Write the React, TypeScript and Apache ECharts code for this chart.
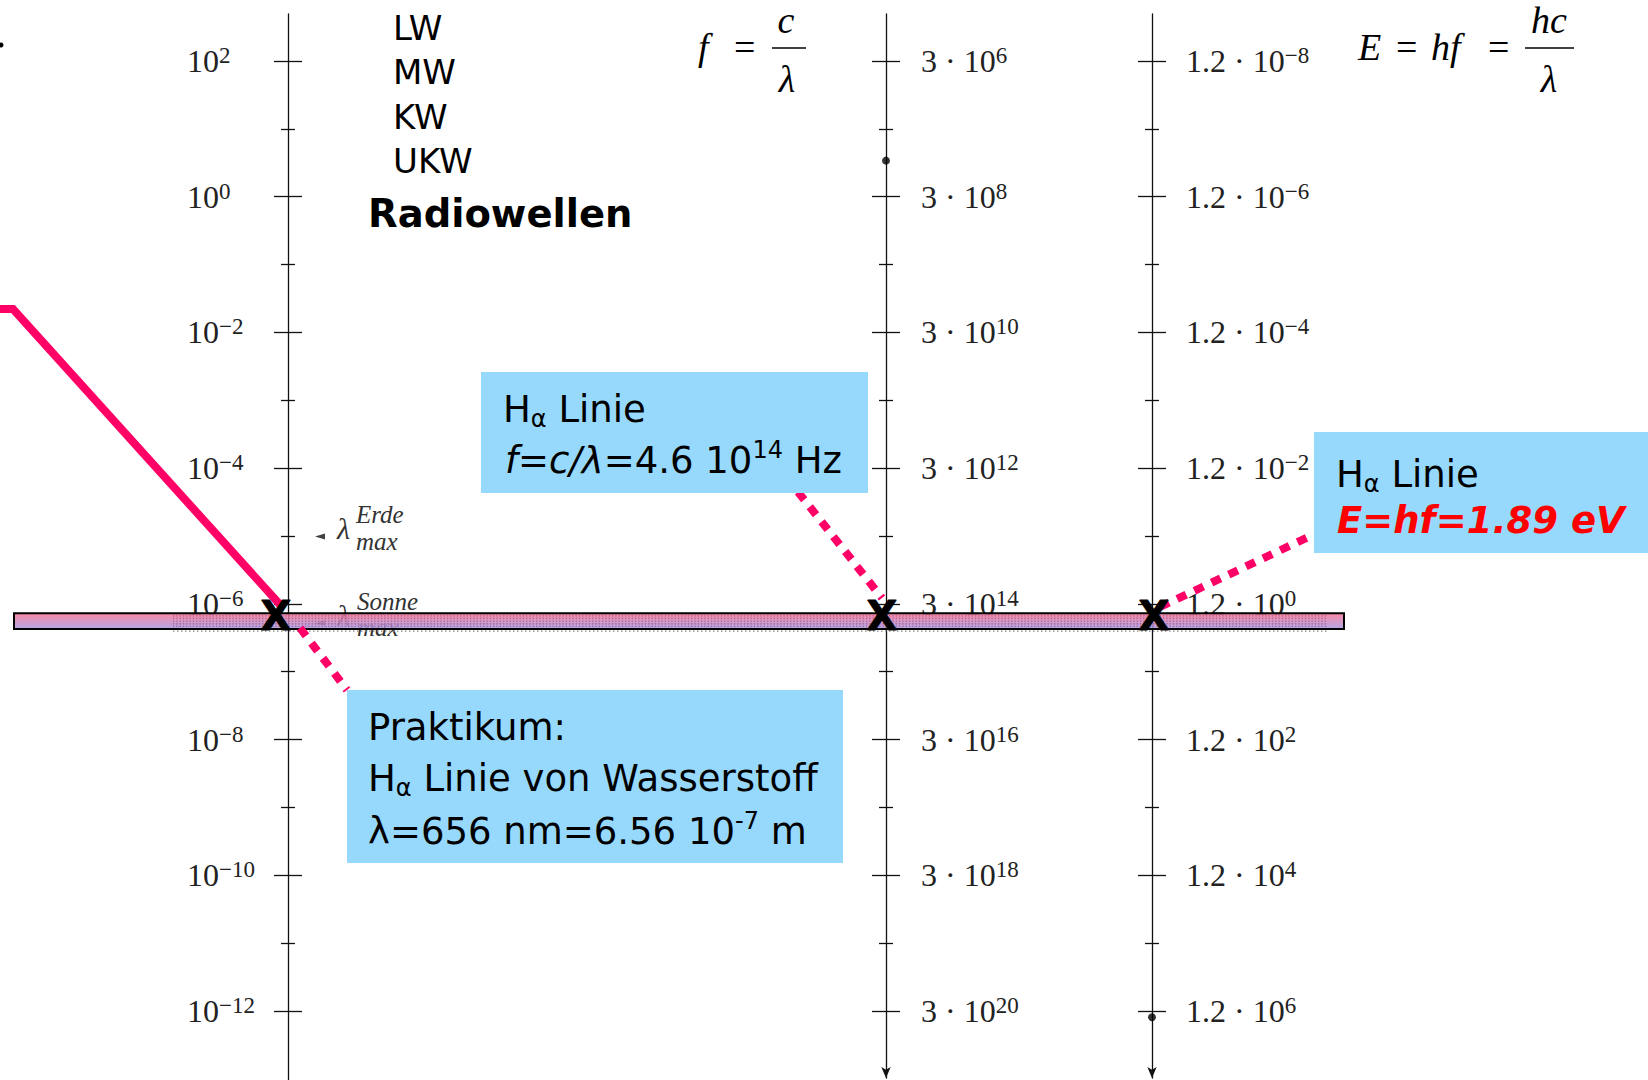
import React, { useEffect, useRef } from 'react';
import * as echarts from 'echarts';

// ---------------- data ----------------
// major ticks of the three scales (λ in m, f = 3·10^k Hz, E = 1.2·10^k eV)
const lambdaTickExp = [2, 0, -2, -4, -6, -8, -10, -12];
const freqTickExp = [6, 8, 10, 12, 14, 16, 18, 20];
const energyTickExp = [-8, -6, -4, -2, 0, 2, 4, 6];
const freqMantissa = '3';
const energyMantissa = '1.2';

const radioBands = ['LW', 'MW', 'KW', 'UKW'];
const radioTitle = 'Radiowellen';

const hAlphaLambda = 6.56e-7; // m
const visibleBand = [4.25e-7, 7.3e-7]; // m
const lambdaMaxErde = 9.8e-6; // m
const lambdaMaxSonne = 5.2e-7; // m
const ukwDotLambda = 3.4; // m  (~88 MHz)
const gammaDotLambda = 8.1e-13; // m (~1.5 MeV)

// annotation lines: [diagram x, λ in m]
const pinkLine = [[0, 0.0221], [13, 0.0221], [283, 8.7e-7]];
const leaderPraktikum = [[300, 4.42e-7], [347, 5.38e-8]];
const leaderFreq = [[798, 4.46e-5], [882, 1.22e-6]];
const leaderEnergy = [[1160, 9.0e-7], [1313, 1.04e-5]];

// ---------------- layout ----------------
const W = 1648;
const H = 1080;
const COLS = [288, 886, 1152];
const TOP = 61;
const SPAN = 950;
const EXP_MIN = -12;
const EXP_MAX = 2;
const PINK = '#ff0066';
const BLUE = '#97d9fc';
const SANS = 'DejaVu Sans';
const SERIF = 'Liberation Serif';

const L = (m: number) => Math.log10(m);
const expStr = (e: number) => (e < 0 ? '\u2212' + Math.abs(e) : String(e));

const labelRich = {
  b: { fontFamily: SERIF, fontSize: 32, lineHeight: 34, color: '#222' },
  s: { fontFamily: SERIF, fontSize: 23, lineHeight: 14, verticalAlign: 'top', color: '#222' },
};

function makeFormatter(kind: number) {
  return (v: number) => {
    const i = lambdaTickExp.indexOf(Math.round(v));
    if (i < 0) return '';
    if (kind === 0) return `{b|10}{s|${expStr(lambdaTickExp[i])}}`;
    if (kind === 1) return `{b|${freqMantissa} · 10}{s|${expStr(freqTickExp[i])}}`;
    return `{b|${energyMantissa} · 10}{s|${expStr(energyTickExp[i])}}`;
  };
}

const boxRich: any = {
  a: { fontFamily: SANS, fontSize: 37, lineHeight: 44, fill: '#000' },
  ai: { fontFamily: SANS, fontSize: 37, lineHeight: 44, fontStyle: 'italic', fill: '#000' },
  s: { fontFamily: SANS, fontSize: 24, lineHeight: 16, verticalAlign: 'bottom', fill: '#000' },
  p: { fontFamily: SANS, fontSize: 24, lineHeight: 26, verticalAlign: 'top', fill: '#000' },
  r: { fontFamily: SANS, fontSize: 37, lineHeight: 44, fontStyle: 'italic', fontWeight: 'bold', fill: '#ff0000' },
};

function txt(x: number, y: number, text: string, style: any = {}, z = 30) {
  return {
    type: 'text',
    x,
    y,
    z,
    silent: true,
    style: {
      text,
      fill: '#000',
      align: 'left',
      verticalAlign: 'middle',
      textAlign: 'left',
      textVerticalAlign: 'middle',
      ...style,
    },
  };
}

function richTxt(x: number, y: number, text: string) {
  return txt(x, y, text, { rich: boxRich, fontFamily: SANS, fontSize: 37 });
}

export default function App() {
  const ref = useRef<HTMLDivElement>(null);

  useEffect(() => {
    document.body.style.margin = '0';
    const chart = echarts.init(ref.current!, null, { renderer: 'svg', width: W, height: H });

    const grids: any[] = [{ left: 0, top: TOP, width: W, height: SPAN }];
    COLS.forEach((x) => grids.push({ left: x - 14, top: TOP, width: 28, height: SPAN }));
    COLS.forEach((x) => grids.push({ left: x - 7, top: TOP, width: 14, height: SPAN }));
    COLS.forEach((x, i) => grids.push({ left: x, top: 14, width: 10, height: i === 0 ? 1066 : 1064 }));

    const xAxes = grids.map((_, i) => ({
      gridIndex: i,
      type: 'value',
      show: false,
      min: 0,
      max: i === 0 ? W : 1,
    }));

    const yAxes: any[] = [{ gridIndex: 0, type: 'value', min: EXP_MIN, max: EXP_MAX, show: false }];
    const margins = [101, 35, 34];
    COLS.forEach((_, i) =>
      yAxes.push({
        gridIndex: 1 + i,
        type: 'value',
        min: EXP_MIN,
        max: EXP_MAX,
        interval: 2,
        position: i === 0 ? 'left' : 'right',
        offset: -14,
        axisLine: { show: false },
        axisTick: { show: false },
        splitLine: { show: true, lineStyle: { color: '#111', width: 1.3 } },
        axisLabel: {
          show: true,
          margin: margins[i],
          align: 'left',
          formatter: makeFormatter(i),
          rich: labelRich,
        },
      })
    );
    COLS.forEach((_, i) =>
      yAxes.push({
        gridIndex: 4 + i,
        type: 'value',
        min: EXP_MIN,
        max: EXP_MAX,
        interval: 2,
        axisLine: { show: false },
        axisTick: { show: false },
        axisLabel: { show: false },
        splitLine: { show: false },
        minorTick: { show: false, splitNumber: 2 },
        minorSplitLine: { show: true, lineStyle: { color: '#111', width: 1.3 } },
      })
    );
    COLS.forEach((_, i) =>
      yAxes.push({
        gridIndex: 7 + i,
        type: 'value',
        min: 0,
        max: 1,
        position: 'left',
        axisLine: {
          show: true,
          symbol: i === 0 ? 'none' : ['arrow', 'none'],
          symbolSize: [7, 11],
          lineStyle: { color: '#111', width: 1.3 },
        },
        axisTick: { show: false },
        axisLabel: { show: false },
        splitLine: { show: false },
      })
    );

    const toXY = (arr: number[][]) => arr.map(([x, m]) => [x, L(m)]);

    const bandGradient = new echarts.graphic.LinearGradient(0, 0, 0, 1, [
      { offset: 0, color: '#fb7898' },
      { offset: 1, color: '#a89be2' },
    ]);

    const series: any[] = [
      {
        type: 'custom',
        xAxisIndex: 0,
        yAxisIndex: 0,
        z: 3,
        silent: true,
        data: [[14, 1344, L(visibleBand[1]), L(visibleBand[0])]],
        renderItem: (_p: any, api: any) => {
          const tl = api.coord([api.value(0), api.value(2)]);
          const br = api.coord([api.value(1), api.value(3)]);
          const w = br[0] - tl[0];
          const h = br[1] - tl[1];
          const tx0 = api.coord([173, 0])[0];
          const tx1 = api.coord([1328, 0])[0];
          const children: any[] = [
            {
              type: 'rect',
              shape: { x: tl[0], y: tl[1], width: w, height: h },
              style: { fill: bandGradient, opacity: 0.88 },
            },
          ];
          for (let k = 1; k <= 5; k++) {
            const yy = tl[1] + (k * h) / 6;
            children.push({
              type: 'line',
              shape: { x1: tx0, y1: yy, x2: tx1, y2: yy },
              style: { stroke: 'rgba(90,20,80,0.4)', lineWidth: 1.3, lineDash: [1.3, 2] },
            });
          }
          children.push({
            type: 'line',
            shape: { x1: tx0, y1: br[1] + 2, x2: tx1, y2: br[1] + 2 },
            style: { stroke: '#888', lineWidth: 1.2, lineDash: [1.5, 2.5] },
          });
          children.push({
            type: 'rect',
            shape: { x: tl[0], y: tl[1], width: w, height: h },
            style: { fill: null, stroke: '#000', lineWidth: 2 },
          });
          return { type: 'group', children };
        },
      },
      {
        type: 'line',
        xAxisIndex: 0,
        yAxisIndex: 0,
        z: 5,
        clip: false,
        silent: true,
        symbol: 'none',
        data: toXY(pinkLine),
        lineStyle: { color: PINK, width: 8, cap: 'butt', join: 'miter' },
      },
      ...[leaderPraktikum, leaderFreq, leaderEnergy].map((d) => ({
        type: 'line',
        xAxisIndex: 0,
        yAxisIndex: 0,
        z: 6,
        clip: false,
        silent: true,
        symbol: 'none',
        data: toXY(d),
        lineStyle: { color: PINK, width: 8, type: [10, 9], cap: 'butt' },
      })),
      {
        // H-alpha markers on the three scales
        type: 'custom',
        xAxisIndex: 0,
        yAxisIndex: 0,
        z: 9,
        silent: true,
        data: [
          [COLS[0] - 12, L(hAlphaLambda)],
          [COLS[1] - 4, L(hAlphaLambda)],
          [COLS[2] + 2, L(hAlphaLambda)],
        ],
        renderItem: (_p: any, api: any) => {
          const c = api.coord([api.value(0), api.value(1)]);
          return {
            type: 'text',
            x: c[0],
            y: c[1],
            style: {
              text: 'X',
              fill: '#000',
              fontFamily: SANS,
              fontWeight: 'bold',
              fontSize: 40,
              align: 'center',
              verticalAlign: 'middle',
              stroke: '#000',
              lineWidth: 1,
            },
          };
        },
      },
      {
        type: 'scatter',
        xAxisIndex: 0,
        yAxisIndex: 0,
        z: 8,
        clip: false,
        silent: true,
        symbol: 'circle',
        symbolSize: 8,
        itemStyle: { color: '#000' },
        data: [
          [COLS[1], L(ukwDotLambda)],
          [COLS[2], L(gammaDotLambda)],
        ],
      },
      {
        type: 'scatter',
        xAxisIndex: 0,
        yAxisIndex: 0,
        z: 2,
        clip: false,
        silent: true,
        symbol: 'triangle',
        symbolSize: [6, 10],
        symbolRotate: 90,
        itemStyle: { color: '#111' },
        data: [
          [320, L(lambdaMaxErde)],
          [320, L(lambdaMaxSonne)],
        ],
      },
    ];

    const serifIt = { fontFamily: SERIF, fontStyle: 'italic', fontSize: 38 };
    const serifUp = { fontFamily: SERIF, fontSize: 38 };
    const smallIt = { fontFamily: SERIF, fontStyle: 'italic', fontSize: 25, fill: '#333' };
    const lamIt = { fontFamily: SERIF, fontStyle: 'italic', fontSize: 30, fill: '#333' };

    const graphic: any[] = [
      // blue boxes
      { type: 'rect', z: 20, silent: true, shape: { x: 481, y: 372, width: 387, height: 121 }, style: { fill: BLUE } },
      { type: 'rect', z: 20, silent: true, shape: { x: 347, y: 690, width: 496, height: 173 }, style: { fill: BLUE } },
      { type: 'rect', z: 20, silent: true, shape: { x: 1314, y: 432, width: 340, height: 121 }, style: { fill: BLUE } },
      // box texts
      richTxt(503, 409, '{a|H}{s|α}{a| Linie}'),
      richTxt(505, 460, '{ai|f=c/λ}{a|=4.6 10}{p|14}{a| Hz}'),
      richTxt(368, 727, '{a|Praktikum:}'),
      richTxt(368, 778, '{a|H}{s|α}{a| Linie von Wasserstoff}'),
      richTxt(368, 831, '{a|λ=656 nm=6.56 10}{p|-7}{a| m}'),
      richTxt(1336, 474, '{a|H}{s|α}{a| Linie}'),
      richTxt(1337, 520, '{r|E=hf=1.89 eV}'),
      // radio texts
      ...radioBands.map((t, i) => txt(393, [27.5, 72, 117, 161][i], t, { fontFamily: SANS, fontSize: 34 })),
      txt(368, 213, radioTitle, { fontFamily: SANS, fontSize: 38.5, fontWeight: 'bold' }),
      // formula f = c / λ
      txt(698, 47, 'f', serifIt),
      txt(734, 47, '=', serifUp),
      txt(786, 20, 'c', { ...serifIt, align: 'center', textAlign: 'center' }),
      { type: 'line', z: 30, silent: true, shape: { x1: 772, y1: 48, x2: 806, y2: 48 }, style: { stroke: '#000', lineWidth: 1.6 } },
      txt(787, 79, 'λ', { ...serifIt, align: 'center', textAlign: 'center' }),
      // formula E = hf = hc / λ
      txt(1358, 47, 'E', serifIt),
      txt(1396, 47, '=', serifUp),
      txt(1431, 47, 'hf', serifIt),
      txt(1488, 47, '=', serifUp),
      txt(1549, 20, 'hc', { ...serifIt, align: 'center', textAlign: 'center' }),
      { type: 'line', z: 30, silent: true, shape: { x1: 1525, y1: 48, x2: 1574, y2: 48 }, style: { stroke: '#000', lineWidth: 1.6 } },
      txt(1549, 79, 'λ', { ...serifIt, align: 'center', textAlign: 'center' }),
      // λmax labels
      txt(337, 528, 'λ', lamIt, 2),
      txt(356, 514, 'Erde', smallIt, 2),
      txt(356, 541, 'max', smallIt, 2),
      txt(337, 615, 'λ', lamIt, 2),
      txt(357, 601, 'Sonne', smallIt, 2),
      txt(357, 627, 'max', smallIt, 2),
      // stray mark at the left edge
      { type: 'circle', z: 2, silent: true, shape: { cx: 1, cy: 45, r: 2.5 }, style: { fill: '#000' } },
    ];

    chart.setOption({
      animation: false,
      backgroundColor: '#fff',
      grid: grids,
      xAxis: xAxes,
      yAxis: yAxes,
      series,
      graphic,
    });

    return () => chart.dispose();
  }, []);

  return <div ref={ref} style={{ width: W, height: H }} />;
}
